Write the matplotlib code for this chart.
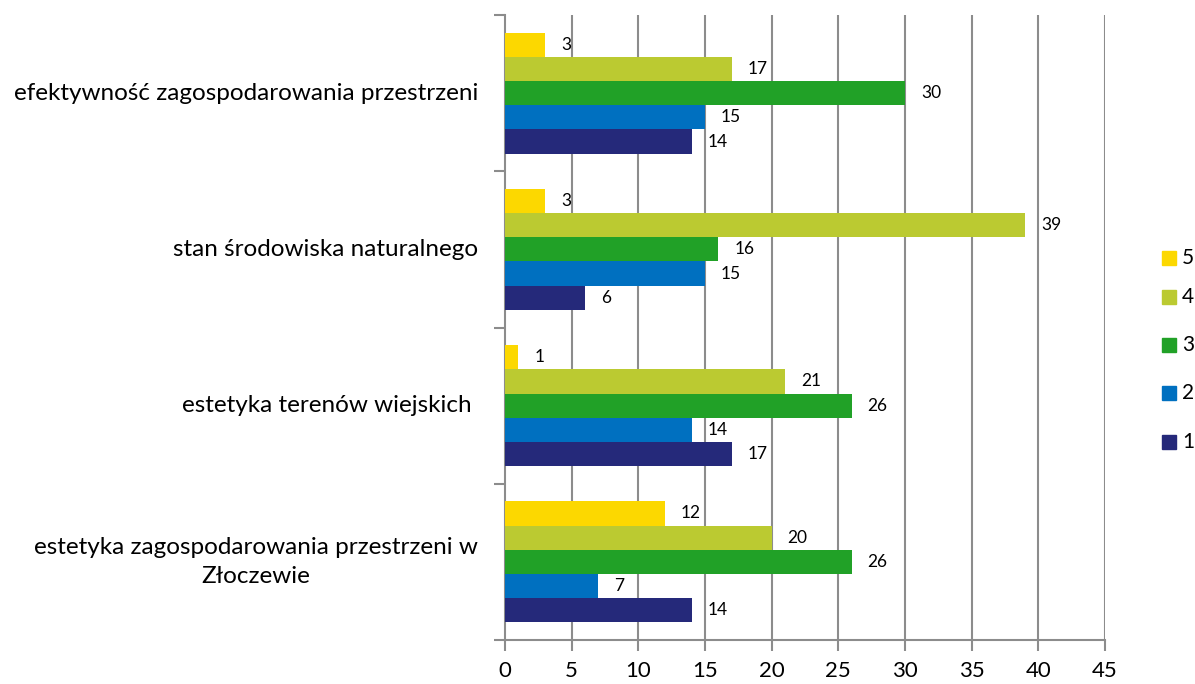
import matplotlib
matplotlib.use("Agg")
import matplotlib.pyplot as plt
import numpy as np
from matplotlib.patches import Rectangle

plt.rcParams['font.family'] = ['Lato', 'DejaVu Sans']

categories = [
    "efektywność zagospodarowania przestrzeni",
    "stan środowiska naturalnego",
    "estetyka terenów wiejskich ",
    "estetyka zagospodarowania przestrzeni w\nZłoczewie",
]
series_names = ["5", "4", "3", "2", "1"]
values = {
    "5": [3, 3, 1, 12],
    "4": [17, 39, 21, 20],
    "3": [30, 16, 26, 26],
    "2": [15, 15, 14, 7],
    "1": [14, 6, 17, 14],
}
colors = {
    "5": "#FCD800",
    "4": "#BBCA31",
    "3": "#21A127",
    "2": "#0070C0",
    "1": "#25297A",
}
xticks = [0, 5, 10, 15, 20, 25, 30, 35, 40, 45]

W, H = 1195, 684
fig = plt.figure(figsize=(W / 100, H / 100), dpi=100)
ax = fig.add_axes([505 / W, 1 - 640 / H, 600 / W, 625 / H])

n_cat = len(categories)
bar_h = 0.155
ax.set_ylim(n_cat, 0)
ax.set_xlim(0, 45)

for ci in range(n_cat):
    start = ci + 0.5 - bar_h * 2.5
    for si, s in enumerate(series_names):
        y = start + bar_h * (si + 0.5)
        v = values[s][ci]
        ax.barh(y, v, height=bar_h, color=colors[s], zorder=3)
        ax.annotate(str(v), (v, y), xytext=(11.5, 0), textcoords='offset points',
                    ha='left', va='center', fontsize=12.5, color='#000000', zorder=4)

# grid
for x in xticks[1:]:
    ax.axvline(x, color='#8C8C8C', lw=1.5, zorder=1)

ax.set_xticks(xticks)
ax.set_xticklabels([str(x) for x in xticks], fontsize=16)
ax.tick_params(axis='x', direction='out', length=8, width=1.5, color='#8C8C8C', pad=7)

ax.set_yticks(np.arange(n_cat + 1))
ax.set_yticklabels([])
ax.tick_params(axis='y', direction='out', length=8, width=1.5, color='#8C8C8C')
for ci, c in enumerate(categories):
    ax.text(-27 / 600 * 45, ci + 0.5, c, ha='right', va='center', multialignment='center',
            fontsize=17.5, color='#000000', linespacing=1.45)

for sp in ['top', 'right']:
    ax.spines[sp].set_visible(False)
for sp in ['left', 'bottom']:
    ax.spines[sp].set_color('#8C8C8C')
    ax.spines[sp].set_linewidth(1.5)

# legend (manual, near the right edge like reference)
leg_y = [258, 297, 345, 393, 442]
for s, yy in zip(series_names, leg_y):
    fig.patches.append(Rectangle((1162 / W, 1 - (yy + 7) / H), 14 / W, 14 / H,
                                 transform=fig.transFigure, color=colors[s]))
    fig.text(1182 / W, 1 - yy / H, s, ha='left', va='center', fontsize=15)

fig.savefig("out.png", dpi=100)
